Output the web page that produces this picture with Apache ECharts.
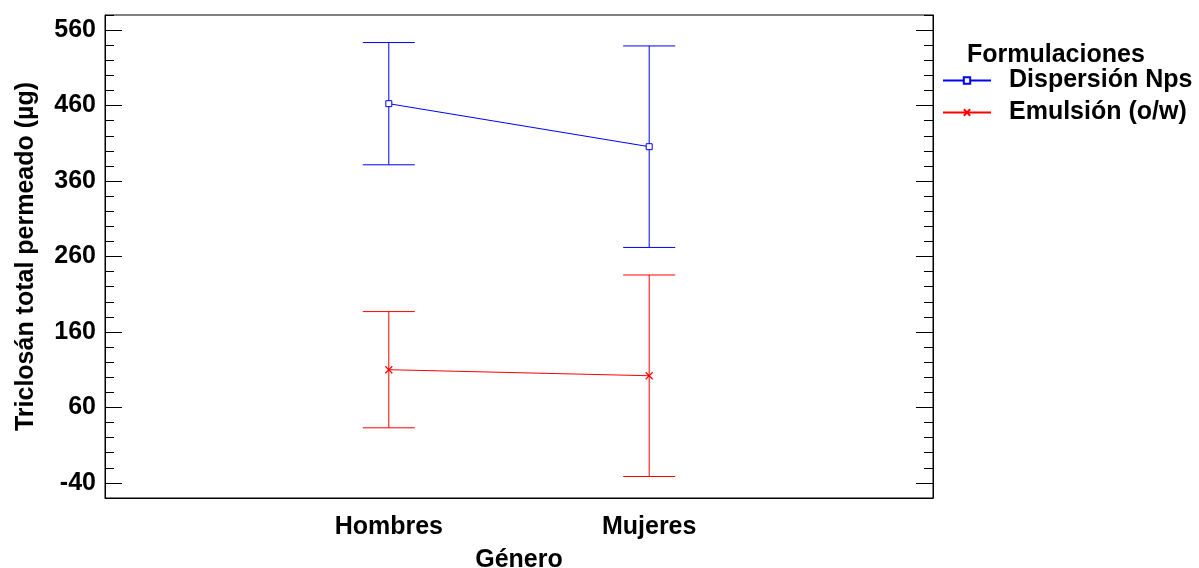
<!DOCTYPE html>
<html>
<head>
<meta charset="utf-8">
<script src="https://cdn.jsdelivr.net/npm/echarts@6/dist/echarts.min.js"></script>
<style>
  html, body { margin: 0; padding: 0; background: #fff; }
  #chart { width: 1199px; height: 568px; }
</style>
</head>
<body>
<div id="chart"></div>
<script>
// Groups on the x axis (placed at 1, 2)
const genders = ['Hombres', 'Mujeres'];

// Dispersión Nps: means and interval bounds (µg)
const npsMean = [462.5, 405.5];
const npsLow = [381.5, 272];
const npsHigh = [543.5, 539];

// Emulsión (o/w): means and interval bounds (µg)
const emuMean = [110, 102];
const emuLow = [33, -31.5];
const emuHigh = [187, 235.5];

// Y axis ticks
const yMajorTicks = [-40, 60, 160, 260, 360, 460, 560];

const FONT = '"Liberation Sans", Arial, sans-serif';
const BLUE = '#0000ff';
const RED = '#ff0000';

const xPos = genders.map((g, i) => i + 1);

function pairs(means) {
  return means.map((m, i) => [xPos[i], m]);
}
function bars(low, high) {
  return low.map((l, i) => [xPos[i], l, high[i]]);
}

function errorBarRenderer(color) {
  return function (params, api) {
    const x = api.value(0);
    const top = api.coord([x, api.value(2)]);
    const bottom = api.coord([x, api.value(1)]);
    const hw = 26;
    const style = { stroke: color, lineWidth: 1 };
    return {
      type: 'group',
      children: [
        { type: 'line', shape: { x1: top[0], y1: top[1], x2: bottom[0], y2: bottom[1] }, style },
        { type: 'line', shape: { x1: top[0] - hw, y1: top[1], x2: top[0] + hw, y2: top[1] }, style },
        { type: 'line', shape: { x1: bottom[0] - hw, y1: bottom[1], x2: bottom[0] + hw, y2: bottom[1] }, style }
      ]
    };
  };
}

const labelFont = { fontFamily: FONT, fontWeight: 'bold', fontSize: 25, color: '#000' };
const blackLine = { lineStyle: { color: '#000', width: 1 } };

const chart = echarts.init(document.getElementById('chart'), null, { renderer: 'canvas' });

chart.setOption({
  animation: false,
  backgroundColor: '#fff',
  grid: {
    left: 105, right: 266, top: 15, bottom: 70,
    outerBoundsMode: 'none',
    containLabel: false,
    show: true, borderColor: '#000', borderWidth: 1, backgroundColor: 'transparent'
  },
  title: {
    text: 'Formulaciones',
    left: 967, top: 43,
    padding: 0,
    textStyle: { fontFamily: FONT, fontWeight: 'bold', fontSize: 25, color: '#000' }
  },
  legend: {
    orient: 'vertical',
    left: 942, top: 68,
    padding: 0,
    itemWidth: 48,
    itemHeight: 8,
    itemGap: 7,
    data: ['Dispersión Nps', 'Emulsión (o/w)'],
    textStyle: { fontFamily: FONT, fontWeight: 'bold', fontSize: 25, color: '#000', padding: [0, 0, 0, 13] }
  },
  xAxis: {
    type: 'value',
    min: -0.09, max: 3.09,
    name: 'Género',
    nameLocation: 'middle',
    nameGap: 50,
    nameTextStyle: labelFont,
    axisLine: { onZero: false, ...blackLine },
    axisTick: { show: false },
    splitLine: { show: false },
    axisLabel: {
      customValues: xPos,
      formatter: v => genders[Math.round(v) - 1] || '',
      margin: 17,
      ...labelFont
    }
  },
  yAxis: [
    {
      type: 'value', min: -60, max: 580, position: 'left',
      name: 'Triclosán total permeado (µg)',
      nameLocation: 'middle',
      nameGap: 66,
      nameTextStyle: labelFont,
      axisLine: { show: true, onZero: false, ...blackLine },
      axisTick: { show: true, inside: true, length: 17, customValues: yMajorTicks, ...blackLine },
      axisLabel: { customValues: yMajorTicks, margin: 9, ...labelFont },
      splitLine: { show: false }
    },
    {
      type: 'value', min: -60, max: 580, interval: 20, position: 'left',
      axisLine: { show: false, onZero: false },
      axisTick: { show: true, inside: true, length: 9, ...blackLine },
      axisLabel: { show: false },
      splitLine: { show: false }
    },
    {
      type: 'value', min: -60, max: 580, position: 'right',
      axisLine: { show: true, onZero: false, ...blackLine },
      axisTick: { show: true, inside: true, length: 17, customValues: yMajorTicks, ...blackLine },
      axisLabel: { show: false },
      splitLine: { show: false }
    },
    {
      type: 'value', min: -60, max: 580, interval: 20, position: 'right',
      axisLine: { show: false, onZero: false },
      axisTick: { show: true, inside: true, length: 9, ...blackLine },
      axisLabel: { show: false },
      splitLine: { show: false }
    }
  ],
  series: [
    {
      type: 'custom',
      name: 'Dispersión Nps intervalo',
      renderItem: errorBarRenderer(BLUE),
      data: bars(npsLow, npsHigh),
      encode: { x: 0, y: [1, 2] },
      z: 1
    },
    {
      type: 'custom',
      name: 'Emulsión (o/w) intervalo',
      renderItem: errorBarRenderer(RED),
      data: bars(emuLow, emuHigh),
      encode: { x: 0, y: [1, 2] },
      z: 1
    },
    {
      type: 'line',
      name: 'Dispersión Nps',
      data: pairs(npsMean),
      symbol: 'rect',
      symbolSize: 6,
      lineStyle: { color: BLUE, width: 1 },
      itemStyle: { color: '#fff', borderColor: BLUE, borderWidth: 1 },
      z: 3
    },
    {
      type: 'line',
      name: 'Emulsión (o/w)',
      data: pairs(emuMean),
      symbol: 'path://M0,0L10,10M10,0L0,10',
      symbolSize: 7,
      lineStyle: { color: RED, width: 1 },
      itemStyle: { color: RED, borderColor: RED, borderWidth: 1.2 },
      z: 3
    }
  ]
});
</script>
</body>
</html>
